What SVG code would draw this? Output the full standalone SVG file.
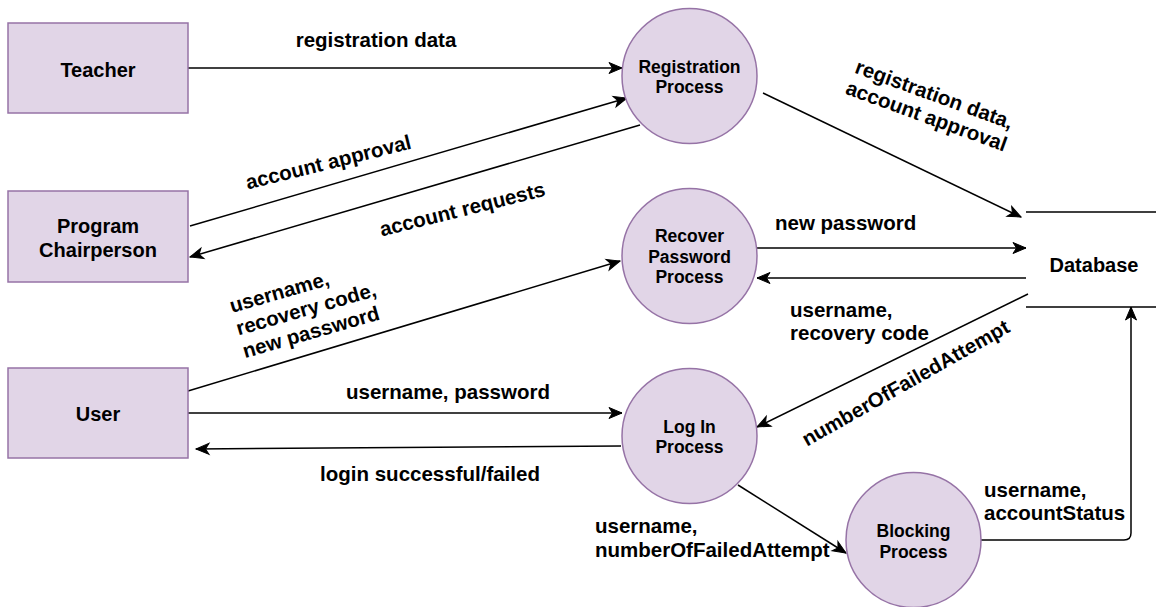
<svg xmlns="http://www.w3.org/2000/svg" width="1156" height="607" viewBox="0 0 1156 607">
<style>
.ent{fill:#e1d5e7;stroke:#9673a6;stroke-width:1.5}
.t{font-family:"Liberation Sans",Arial,Helvetica,sans-serif;font-weight:bold;fill:#000}
.en{font-size:20px;text-anchor:middle}
.pr{font-size:17.5px;text-anchor:middle}
.lb{font-size:20.5px}
.mid{text-anchor:middle}
.c{fill:none;stroke:#000;stroke-width:1.5}
</style>
<defs>
<marker id="arr" markerUnits="userSpaceOnUse" markerWidth="14" markerHeight="12" refX="13" refY="5.5" orient="auto" overflow="visible">
<path d="M0,0 L13,5.5 L0,11 L3.5,5.5 Z" fill="#000" stroke="#000" stroke-width="1"/>
</marker>
</defs>
<rect width="1156" height="607" fill="#fff"/>

<g id="connectors">
<path class="c" d="M188,68 L622,68" marker-end="url(#arr)"/>
<path class="c" d="M190,226 L627,98" marker-end="url(#arr)"/>
<path class="c" d="M640,125 L190,257" marker-end="url(#arr)"/>
<path class="c" d="M763,93 L1021,217" marker-end="url(#arr)"/>
<path class="c" d="M757,248 L1026,248" marker-end="url(#arr)"/>
<path class="c" d="M1026,278 L757,278" marker-end="url(#arr)"/>
<path class="c" d="M188,391 L620,261" marker-end="url(#arr)"/>
<path class="c" d="M188,413 L622,413" marker-end="url(#arr)"/>
<path class="c" d="M621,446 L196,449" marker-end="url(#arr)"/>
<path class="c" d="M1028,294 L757,427" marker-end="url(#arr)"/>
<path class="c" d="M738,485 L846,553" marker-end="url(#arr)"/>
<path class="c" d="M981,540 L1124,540 Q1131,540 1131,533 L1131,307" marker-end="url(#arr)"/>

<text class="t lb mid" x="376" y="47">registration data</text>
<text class="t lb mid" transform="translate(330,169) rotate(-14)">account approval</text>
<text class="t lb mid" transform="translate(464,216) rotate(-14)">account requests</text>
<text class="t lb mid" transform="translate(932,101) rotate(20)"><tspan x="0" y="0">registration data,</tspan><tspan x="0" y="23">account approval</tspan></text>
<text class="t lb" x="775" y="230">new password</text>
<text class="t lb"><tspan x="790" y="317">username,</tspan><tspan x="790" y="340">recovery code</tspan></text>
<text class="t lb" transform="translate(232,313) rotate(-16)"><tspan x="0" y="0">username,</tspan><tspan x="0" y="23.5">recovery code,</tspan><tspan x="0" y="47">new password</tspan></text>
<text class="t lb mid" x="448" y="399">username, password</text>
<text class="t lb mid" x="430" y="481">login successful/failed</text>
<text class="t lb mid" transform="translate(909,389) rotate(-29.5)">numberOfFailedAttempt</text>
<text class="t lb"><tspan x="595" y="533">username,</tspan><tspan x="595" y="557">numberOfFailedAttempt</tspan></text>
<text class="t lb"><tspan x="984" y="497">username,</tspan><tspan x="984" y="520">accountStatus</tspan></text>
</g>

<g id="teacher">
<rect class="ent" x="8" y="23" width="180" height="90"/>
<text class="t en" x="98" y="77">Teacher</text>
</g>
<g id="program-chairperson">
<rect class="ent" x="8" y="191" width="180" height="91"/>
<text class="t en"><tspan x="98" y="233">Program</tspan><tspan x="98" y="257">Chairperson</tspan></text>
</g>
<g id="user">
<rect class="ent" x="8" y="368" width="180" height="90"/>
<text class="t en" x="98" y="421">User</text>
</g>

<g id="registration-process">
<circle class="ent" cx="689.5" cy="76" r="67.5"/>
<text class="t pr"><tspan x="689.5" y="73">Registration</tspan><tspan x="689.5" y="93">Process</tspan></text>
</g>
<g id="recover-password-process">
<circle class="ent" cx="689.5" cy="256" r="67.5"/>
<text class="t pr"><tspan x="689.5" y="242">Recover</tspan><tspan x="689.5" y="263">Password</tspan><tspan x="689.5" y="283">Process</tspan></text>
</g>
<g id="login-process">
<circle class="ent" cx="689.5" cy="436" r="67.5"/>
<text class="t pr"><tspan x="689.5" y="433">Log In</tspan><tspan x="689.5" y="453">Process</tspan></text>
</g>
<g id="blocking-process">
<circle class="ent" cx="913.5" cy="540" r="67.5"/>
<text class="t pr"><tspan x="913.5" y="537">Blocking</tspan><tspan x="913.5" y="558">Process</tspan></text>
</g>

<g id="database">
<path d="M1026,212 L1156,212 M1026,307 L1156,307" fill="none" stroke="#000" stroke-width="1.5"/>
<text class="t en" x="1094" y="272">Database</text>
</g>
</svg>
